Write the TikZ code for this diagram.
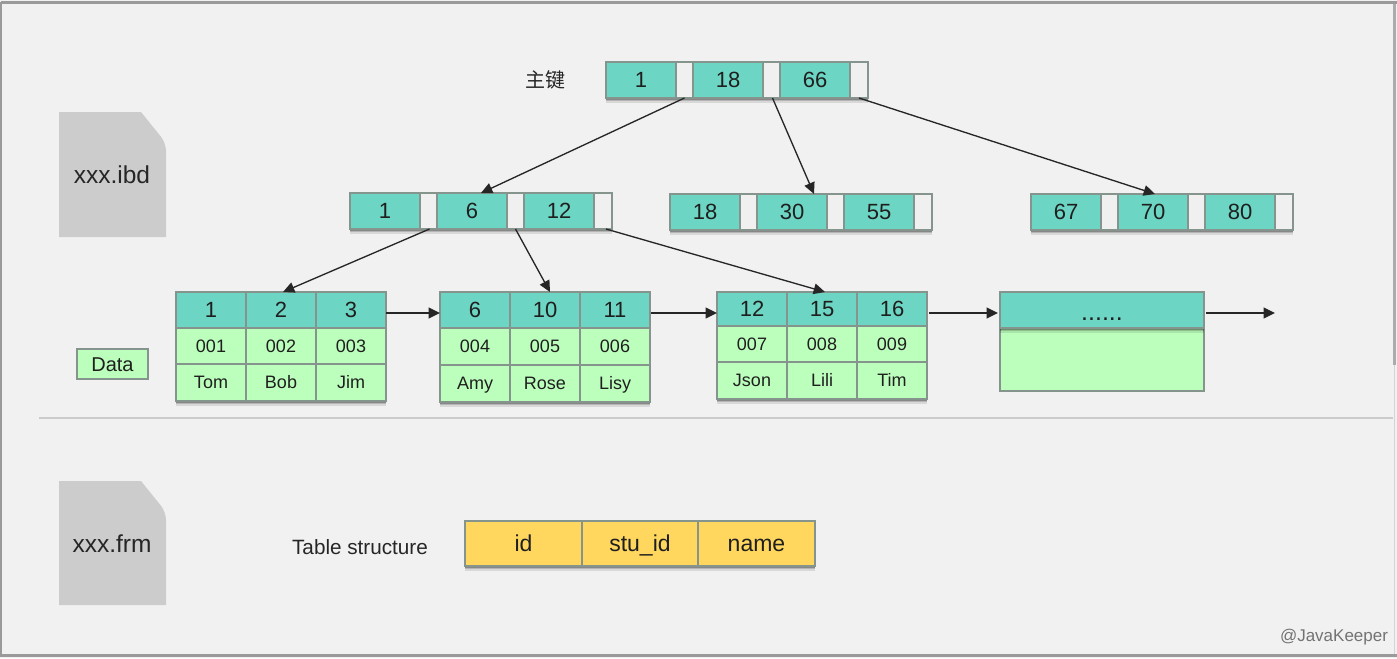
\documentclass[tikz,border=0pt]{standalone}
\usepackage{fontspec}
\setmainfont{Liberation Sans}
\newfontfamily\cjkfont{Noto Sans CJK SC}
\usetikzlibrary{shadows,arrows.meta,calc}
\definecolor{pagebg}{HTML}{F1F1F1}
\definecolor{framegray}{HTML}{9A9A9A}
\definecolor{sidegray}{HTML}{ABABAB}
\definecolor{sidelight}{HTML}{D4D4D4}
\definecolor{rulegray}{HTML}{CBCBCB}
\definecolor{docgray}{HTML}{CCCCCC}
\definecolor{keyteal}{HTML}{6DD5C3}
\definecolor{rowgreen}{HTML}{BCFFBC}
\definecolor{fieldyellow}{HTML}{FFD75F}
\definecolor{slotwhite}{HTML}{F0F0F0}
\definecolor{cellline}{HTML}{86948E}
\def\px{0.75pt}
\newcommand{\fpx}[1]{\fontsize{\fpeval{#1*0.75}}{\fpeval{#1*0.9}}\selectfont}
\tikzset{
  x=0.75pt,y=-0.75pt,
  flatcell/.style={draw=cellline,line width=1pt,inner sep=0pt,outer sep=0pt,text=black!88,text depth=0pt},
  cellbase/.style={flatcell,
    drop shadow={shadow xshift=0pt,shadow yshift=-3.4pt,shadow scale=1.003,opacity=0.1,fill=black},
    drop shadow={shadow xshift=0pt,shadow yshift=-2.4pt,shadow scale=1.003,opacity=0.16,fill=black},
    drop shadow={shadow xshift=0pt,shadow yshift=-1.3pt,opacity=0.25,fill=black}},
  keycell/.style={cellbase,fill=keyteal,font=\fpx{22},text height=11.8pt},
  slotcell/.style={cellbase,fill=slotwhite},
  datacell/.style={cellbase,fill=rowgreen,font=\fpx{18},text height=9.7pt},
  plaingreen/.style={flatcell,fill=rowgreen,font=\fpx{20},text height=10.7pt},
  fieldcell/.style={cellbase,fill=fieldyellow,font=\fpx{23},text height=12.4pt},
  link/.style={draw=black!85,line width=1pt,-{Triangle[length=8.5pt,width=8pt]}},
  chain/.style={link,line width=1.2pt},
  doclabel/.style={font=\fpx{24.5},text=black!85},
  plainlabel/.style={font=\fpx{20.7},text=black!85},
}
% A cell given by its corners, in pixel units: name, x0, y0, x1, y1, style, text
\newcommand{\cell}[7]{%
  \pgfmathsetmacro{\cw}{(#4-#2)*0.75}%
  \pgfmathsetmacro{\ch}{(#5-#3)*0.75}%
  \node[#6,minimum width=\cw pt,minimum height=\ch pt] (#1) at ({(#2+#4)/2},{(#3+#5)/2}) {#7};}
% One index page: prefix, left edge, top edge, three keys
\newcommand{\indexpage}[6]{%
  \pgfmathsetmacro{\xa}{#2}\pgfmathsetmacro{\xb}{#2+70}\pgfmathsetmacro{\xc}{#2+87}%
  \pgfmathsetmacro{\xd}{#2+157}\pgfmathsetmacro{\xe}{#2+174}\pgfmathsetmacro{\xf}{#2+244}%
  \pgfmathsetmacro{\xg}{#2+262}\pgfmathsetmacro{\yb}{#3+36}%
  \cell{#1a}{\xa}{#3}{\xb}{\yb}{keycell}{#4}
  \cell{#1p}{\xb}{#3}{\xc}{\yb}{slotcell}{}
  \cell{#1b}{\xc}{#3}{\xd}{\yb}{keycell}{#5}
  \cell{#1q}{\xd}{#3}{\xe}{\yb}{slotcell}{}
  \cell{#1c}{\xe}{#3}{\xf}{\yb}{keycell}{#6}
  \cell{#1r}{\xf}{#3}{\xg}{\yb}{slotcell}{}}
% One leaf page column: prefix, left, right, key, id, name, row edges
\newcommand{\leafcol}[9]{%
  \cell{#1h}{#2}{292}{#3}{#7}{keycell}{#4}
  \cell{#1i}{#2}{#7}{#3}{#8}{datacell}{#5}
  \cell{#1n}{#2}{#8}{#3}{#9}{datacell}{#6}}
\begin{document}
\begin{tikzpicture}
\useasboundingbox (0,0) rectangle (1397,658);
\fill[pagebg] (0,0) rectangle (1397,658);
\draw[sidegray,line width=1.6pt] (1394.5,3) -- (1394.5,365);
\draw[sidelight,line width=1.2pt] (1394.5,365) -- (1394.5,655);
\draw[framegray,line width=1.6pt] (1,2.5) -- (1397,2.5);
\draw[framegray,line width=1.6pt] (1,2) -- (1,655.5) -- (1397,655.5);

% File icons
\fill[docgray] (59,112) -- (141,112) [rounded corners=6pt] -- (166,143) [sharp corners] -- (166,237) -- (59,237) -- cycle;
\fill[docgray] (59,481) -- (141,481) [rounded corners=6pt] -- (166,512) [sharp corners] -- (166,605) -- (59,605) -- cycle;
\node[doclabel] (ibd) at (112,175) {xxx.ibd};
\node[doclabel] (frm) at (112,544) {xxx.frm};

% Index levels
\node[font={\cjkfont\fpx{20}},text=black!85] (pk) at (545,80) {主键};
\indexpage{r}{606}{62}{1}{18}{66}
\indexpage{s}{350}{193}{1}{6}{12}
\indexpage{t}{670}{194}{18}{30}{55}
\indexpage{u}{1031}{194}{67}{70}{80}

% Leaf pages
\cell{dlabel}{77}{349}{148}{379}{plaingreen}{Data}
\leafcol{la}{176}{246}{1}{001}{Tom}{328}{364}{401}
\leafcol{lb}{246}{316}{2}{002}{Bob}{328}{364}{401}
\leafcol{lc}{316}{386}{3}{003}{Jim}{328}{364}{401}
\leafcol{ld}{440}{510}{6}{004}{Amy}{328}{365}{402}
\leafcol{le}{510}{580}{10}{005}{Rose}{328}{365}{402}
\leafcol{lf}{580}{650}{11}{006}{Lisy}{328}{365}{402}
\leafcol{lg}{717}{787}{12}{007}{Json}{326}{362}{399}
\leafcol{lh}{787}{857}{15}{008}{Lili}{326}{362}{399}
\leafcol{li}{857}{927}{16}{009}{Tim}{326}{362}{399}
\cell{lxd}{1000}{328}{1204}{391}{plaingreen}{}
\cell{lxh}{1000}{292}{1204}{328}{keycell,font=\fpx{25},text height=15pt}{......}
\coordinate (tailend) at (1275,313);

% Separator
\draw[rulegray,line width=1.2pt] (39,418) -- (1393,418);

% Table structure
\node[plainlabel] (tslabel) at (360,547) {Table structure};
\cell{fa}{465}{521}{582}{566}{fieldcell}{id}
\cell{fb}{582}{521}{698}{566}{fieldcell}{stu\_id}
\cell{fc}{698}{521}{815}{566}{fieldcell}{name}

\node[font=\fpx{17},text=black!55] (credit) at (1334,637) {@JavaKeeper};

% Pointers from the root to the second level
\draw[link] (rp.south) -- ([xshift=9*\px]sb.north);
\draw[link] ([xshift=1*\px]rq.south) -- ([xshift=22*\px]tb.north);
\draw[link] (rr.south) -- ([xshift=2*\px]ub.north);
% Pointers from the second level to the leaves
\draw[link] ([xshift=1*\px]sp.south) -- ([xshift=2*\px]lbh.north);
\draw[link] (sq.south) -- ([xshift=5*\px]leh.north);
\draw[link] ([xshift=3*\px]sr.south) -- ([xshift=3*\px]lhh.north);
% Sibling chain between the leaves
\draw[chain] ([yshift=-3*\px]lch.east) -- ([yshift=-3*\px]ldh.west);
\draw[chain] ([xshift=1*\px,yshift=-3*\px]lfh.east) -- ([yshift=-4*\px]lgh.west);
\draw[chain] ([xshift=2*\px,yshift=-4*\px]lih.east) -- ([xshift=-2*\px,yshift=-3*\px]lxh.west);
\draw[chain] ([xshift=2*\px,yshift=-3*\px]lxh.east) -- (tailend);
\end{tikzpicture}
\end{document}
